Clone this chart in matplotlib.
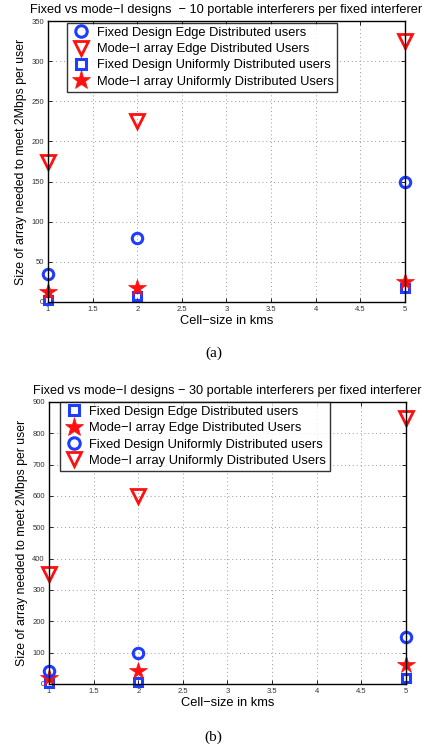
import numpy as np
import matplotlib.pyplot as plt

# Cell sizes (km)
cell_size = [1, 2, 5]

# Panel (a): 10 portable interferers per fixed interferer
a_fixed_edge = [35, 80, 150]
a_mode1_edge = [175, 225, 325]
a_fixed_unif = [3, 8, 18]
a_mode1_unif = [12, 17, 25]

# Panel (b): 30 portable interferers per fixed interferer
b_fixed_edge = [3, 6, 20]
b_mode1_edge = [20, 40, 60]
b_fixed_unif = [40, 100, 150]
b_mode1_unif = [350, 600, 850]

lbl_fe = "Fixed Design Edge Distributed users"
lbl_me = "Mode\u2212I array Edge Distributed Users"
lbl_fu = "Fixed Design Uniformly Distributed users"
lbl_mu = "Mode\u2212I array Uniformly Distributed Users"

plt.rcParams['font.family'] = ['Liberation Sans', 'DejaVu Sans']

BLUE = '#1f3dff'
RED = '#ff1010'

circ = dict(marker='o', ms=7.5, mfc='none', mec=BLUE, mew=2.2, ls='none', clip_on=False)
tri = dict(marker='v', ms=9.5, mfc='none', mec=RED, mew=2.0, ls='none', clip_on=False)
sq = dict(marker='s', ms=6, mfc='none', mec=BLUE, mew=2.2, ls='none', clip_on=False)
star = dict(marker='*', ms=13, mfc=RED, mec=RED, mew=0.5, ls='none', clip_on=False)

fig = plt.figure(figsize=(4.27, 7.51), dpi=100)
W, H = 427.0, 751.0
ax1 = fig.add_axes([48 / W, 1 - 302 / H, 357 / W, 281 / H])
ax2 = fig.add_axes([49 / W, 1 - 684 / H, 357 / W, 282 / H])


def style(ax, ymax, ystep, title):
    ax.set_xlim(1, 5)
    ax.set_ylim(0, ymax)
    ax.set_xticks(np.arange(1, 5.01, 0.5))
    ax.set_xticklabels(['1', '1.5', '2', '2.5', '3', '3.5', '4', '4.5', '5'])
    ax.set_yticks(np.arange(0, ymax + 1, ystep))
    ax.tick_params(direction='in', top=True, right=True, labelsize=5.5,
                   length=3, width=0.6, pad=3, labelcolor='#333333')
    ax.grid(True, ls=(0, (1, 3)), color='#999999', lw=0.7)
    for s in ax.spines.values():
        s.set_linewidth(1.0)
    ax.set_xlabel("Cell\u2212size in kms", fontsize=9.3, labelpad=1)
    ax.set_ylabel("Size of array needed to meet 2Mbps per user", fontsize=8.8, labelpad=3)
    ax.set_title(title, fontsize=9.2, pad=6)
    ax.set_axisbelow(True)


legend_kw = dict(loc='upper left', fontsize=9.3, frameon=True, fancybox=False,
                 edgecolor='black', handletextpad=0.4, borderpad=0.3,
                 labelspacing=0.33, handlelength=1.6, borderaxespad=0, markerscale=1.1)

# (a)
ax1.plot(cell_size, a_fixed_edge, label=lbl_fe, **circ)
ax1.plot(cell_size, a_mode1_edge, label=lbl_me, **tri)
ax1.plot(cell_size, a_fixed_unif, label=lbl_fu, **sq)
ax1.plot(cell_size, a_mode1_unif, label=lbl_mu, **star)
style(ax1, 350, 50, "Fixed vs mode\u2212I designs  \u2212 10 portable interferers per fixed interferer")
leg1 = ax1.legend(bbox_to_anchor=(0.053, 0.993), **legend_kw)
leg1.get_frame().set_linewidth(1.0)

# (b)
ax2.plot(cell_size, b_fixed_edge, label=lbl_fe, **sq)
ax2.plot(cell_size, b_mode1_edge, label=lbl_me, **star)
ax2.plot(cell_size, b_fixed_unif, label=lbl_fu, **circ)
ax2.plot(cell_size, b_mode1_unif, label=lbl_mu, **tri)
style(ax2, 900, 100, "Fixed vs mode\u2212I designs \u2212 30 portable interferers per fixed interferer")
leg2 = ax2.legend(bbox_to_anchor=(0.03, 1.0), **legend_kw)
leg2.get_frame().set_linewidth(1.0)

fig.text(0.5, 1 - 353 / H, "(a)", ha='center', va='center', fontsize=11,
         family=['Liberation Serif', 'DejaVu Serif'])
fig.text(0.5, 1 - 737 / H, "(b)", ha='center', va='center', fontsize=11,
         family=['Liberation Serif', 'DejaVu Serif'])

fig.savefig("out.png", dpi=100)
